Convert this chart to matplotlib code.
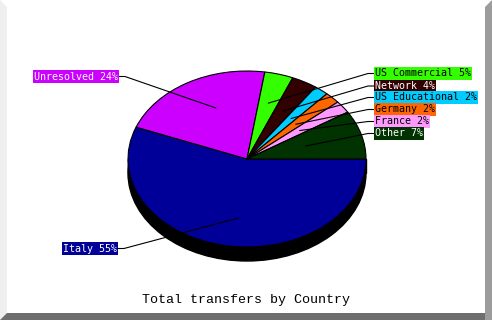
import numpy as np
import matplotlib
matplotlib.use('Agg')
import matplotlib.pyplot as plt
from matplotlib.patches import Wedge, Ellipse, Rectangle, Polygon
from matplotlib.transforms import Affine2D

# ---- data ----
categories = ['Italy', 'Unresolved', 'US Commercial', 'Network',
              'US Educational', 'Germany', 'France', 'Other']
percentages = [55, 24, 5, 4, 2, 2, 2, 7]
title = 'Total transfers by Country'

# ---- style ----
colors = ['#000099', '#cc00ff', '#33ff00', '#330000',
          '#00ccff', '#ff6600', '#ff99ff', '#003300']
text_colors = ['white', 'white', 'black', 'white',
               'black', 'black', 'black', 'white']
# label anchor (x edge, y centre, side) in pixels
label_pos = [(118, 248.5, 'right'), (119, 76.5, 'right'),
             (374, 73.5, 'left'), (374, 86.0, 'left'), (374, 97.5, 'left'),
             (374, 109.5, 'left'), (374, 121.5, 'left'), (374, 133.5, 'left')]

W, H = 492, 320
fig = plt.figure(figsize=(W / 100, H / 100), dpi=100)
ax = fig.add_axes([0, 0, 1, 1])
ax.set_xlim(0, W)
ax.set_ylim(H, 0)
ax.axis('off')

# frame / shadow
ax.add_patch(Polygon([(0, 0), (7, 7), (7, 313), (0, 320)], closed=True,
                     fc='#efefef', ec='none', zorder=0))
ax.add_patch(Polygon([(485, 7), (492, 0), (492, 320), (485, 320)], closed=True,
                     fc='#9c9c9c', ec='none', zorder=0))
ax.add_patch(Polygon([(7, 313), (485, 313), (485, 320), (0, 320)], closed=True,
                     fc='#6e6e6e', ec='none', zorder=0))

cx, cy, rx, ry, depth = 247, 159, 119, 88, 14

# 3D side
ax.add_patch(Ellipse((cx, cy + depth), 2 * rx, 2 * ry, fc='black', ec='black', zorder=1))
ax.add_patch(Rectangle((cx - rx, cy), 2 * rx, depth, fc='black', ec='black', zorder=1))

unit = Affine2D().scale(rx, -ry).translate(cx, cy) + ax.transData


def to_param(phi):
    p = np.radians(phi)
    t = np.degrees(np.arctan2(rx * np.sin(p), ry * np.cos(p)))
    d = (t - phi + 180) % 360 - 180
    return phi + d


total = float(sum(percentages))
cum = np.concatenate([[0], np.cumsum(percentages)])
phis = -360.0 * cum / total  # clockwise from east (screen-polar angles)

for i, (cat, val) in enumerate(zip(categories, percentages)):
    a0, a1 = phis[i], phis[i + 1]
    w = Wedge((0, 0), 1.0, to_param(a1), to_param(a0), fc=colors[i],
              ec='black', lw=0.8, transform=unit, zorder=2)
    ax.add_patch(w)
    mid = np.radians((a0 + a1) / 2)
    axp = cx + 0.5 * rx * np.cos(mid)
    ayp = cy - 0.5 * rx * np.sin(mid)
    lx, ly, side = label_pos[i]
    kx = lx - 6 if side == 'left' else lx + 6
    ax.plot([axp, kx, lx], [ayp, ly, ly], color='black', lw=0.8, zorder=3,
            solid_capstyle='butt')
    ax.text(lx + (1 if side == 'left' else -1), ly, f'{cat} {val}%',
            ha=side, va='center', fontsize=7.2, family='DejaVu Sans Mono',
            color=text_colors[i], zorder=4,
            bbox=dict(boxstyle='square,pad=0.12', fc=colors[i], ec='none'))

ax.text(246, 303, title, ha='center', va='baseline', fontsize=9.6,
        family='Liberation Mono', color='black')

fig.savefig('out.png', dpi=100)
